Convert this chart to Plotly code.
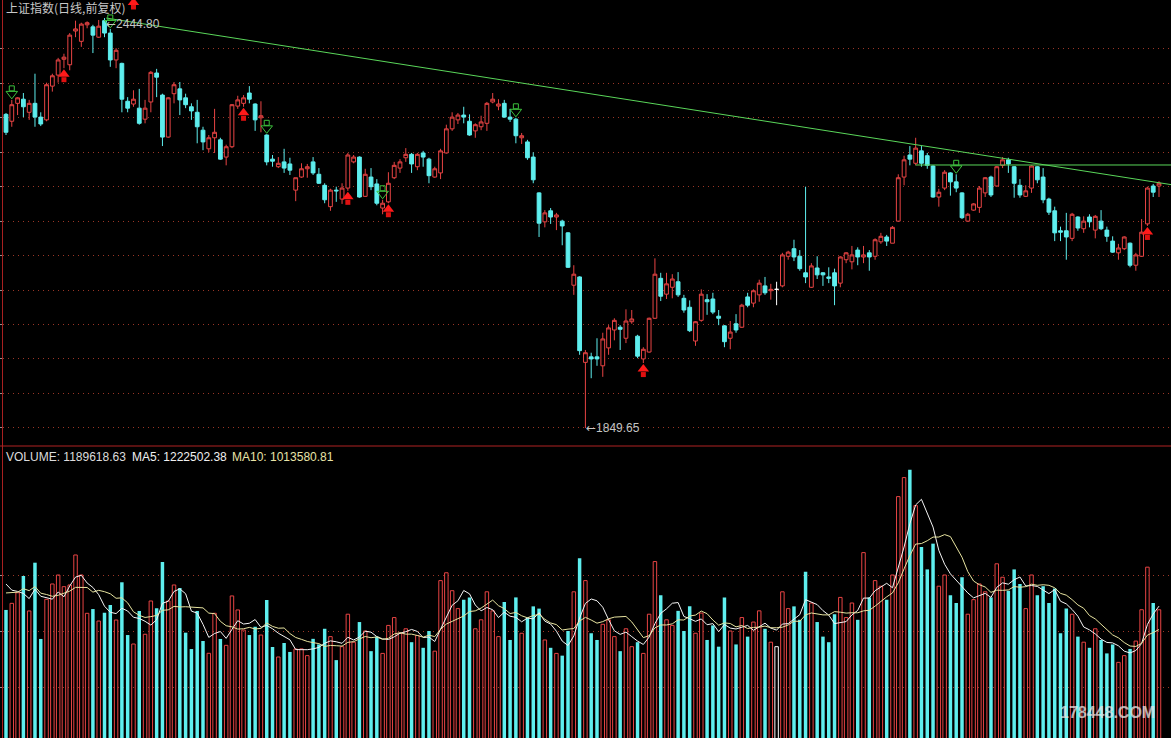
import numpy as np
import plotly.graph_objects as go

# ---------------- data ----------------
open_ = [2305,2295,2321,2327,2308,2321,2301,2297,2346,2362,
         2385,2377,2426,2411,2435,2432,2417,2441,2423,2384,
         2379,2324,2320,2314,2298,2323,2365,2333,2272,2335,
         2342,2329,2316,2308,2282,2255,2271,2268,2243,2258,
         2317,2321,2336,2320,2300,2275,2240,2229,2236,2233,
         2195,2214,2226,2236,2218,2202,2171,2195,2182,2198,
         2236,2243,2186,2214,2204,2169,2178,2213,2227,2242,
         2247,2229,2249,2240,2214,2220,2249,2284,2297,2304,
         2295,2281,2287,2292,2323,2317,2321,2301,2298,2271,
         2265,2243,2191,2149,2165,2156,2150,2133,2057,2069,
         1945,1953,1953,1940,1966,1992,1996,1980,2004,1983,
         1950,1960,2009,2067,2044,2054,2062,2038,2025,1976,
         2006,2036,2037,2012,1998,1980,2001,1996,2040,2031,
         2043,2056,2049,2051,2056,2099,2110,2099,2075,2054,
         2082,2075,2069,2075,2060,2094,2091,2108,2098,2104,
         2099,2120,2127,2118,2150,2214,2246,2234,2252,2245,
         2230,2185,2198,2220,2207,2191,2150,2166,2170,2191,
         2214,2201,2231,2239,2229,2202,2186,2198,2229,2214,
         2182,2165,2136,2136,2125,2156,2139,2156,2137,2150,
         2137,2121,2104,2110,2118,2086,2099,2146,2201,2201]
high = [2307,2326,2330,2336,2326,2364,2308,2351,2364,2387,
        2393,2423,2441,2438,2440,2435,2442,2444.8,2429,2401,
        2380,2330,2340,2342,2326,2368,2371,2335,2330,2352,
        2352,2335,2321,2326,2287,2275,2313,2271,2261,2320,
        2332,2333,2346,2321,2324,2276,2246,2243,2255,2242,
        2213,2234,2233,2243,2227,2205,2197,2200,2205,2249,
        2246,2244,2226,2227,2211,2181,2221,2236,2240,2256,
        2249,2249,2252,2242,2229,2255,2290,2308,2307,2316,
        2305,2292,2303,2323,2336,2327,2326,2313,2300,2278,
        2268,2250,2192,2166,2169,2162,2152,2134,2086,2070,
        1963,1959,1980,1988,1999,2009,1999,2022,2021,1985,
        1967,2010,2096,2075,2075,2073,2076,2043,2035,2005,
        2051,2044,2046,2021,1999,2005,2015,2030,2046,2051,
        2065,2069,2059,2062,2104,2107,2123,2108,2200,2089,
        2099,2076,2083,2081,2099,2105,2114,2112,2114,2108,
        2125,2133,2130,2143,2218,2245,2259,2271,2259,2249,
        2231,2197,2224,2221,2218,2192,2162,2176,2201,2214,
        2216,2230,2243,2242,2230,2211,2202,2231,2230,2227,
        2184,2171,2142,2162,2162,2157,2157,2160,2159,2166,
        2142,2128,2117,2128,2119,2104,2153,2200,2204,2208]
low = [2275,2287,2304,2301,2297,2287,2288,2295,2338,2351,
       2372,2369,2417,2403,2430,2394,2416,2417,2374,2372,
       2308,2308,2316,2290,2292,2308,2330,2259,2271,2321,
       2304,2314,2297,2263,2253,2250,2249,2239,2231,2256,
       2313,2316,2321,2281,2279,2231,2229,2227,2220,2217,
       2179,2213,2213,2217,2204,2176,2165,2178,2175,2194,
       2234,2184,2185,2195,2173,2160,2176,2211,2220,2236,
       2220,2224,2229,2205,2213,2211,2248,2281,2291,2292,
       2274,2271,2282,2281,2321,2311,2300,2294,2263,2262,
       2239,2205,2127,2141,2146,2137,2115,2082,2043,1956,
       1849.65,1922,1940,1924,1956,1977,1963,1973,2001,1951,
       1944,1959,2008,2034,2037,2038,2040,2017,1989,1969,
       2004,2014,2015,1999,1967,1964,1988,1995,2025,2025,
       2033,2043,2036,2028,2054,2094,2092,2078,2060,2053,
       2066,2056,2060,2028,2054,2089,2080,2086,2089,2078,
       2094,2117,2114,2118,2149,2202,2231,2231,2229,2226,
       2184,2171,2195,2187,2192,2153,2149,2165,2162,2185,
       2185,2200,2227,2220,2184,2184,2185,2191,2205,2176,
       2159,2121,2121,2094,2121,2136,2133,2141,2125,2137,
       2120,2104,2094,2108,2083,2078,2098,2143,2185,2185]
close = [2279,2319,2329,2316,2321,2301,2291,2348,2361,2384,
         2388,2420,2429,2436,2438,2420,2433,2423,2384,2398,
         2327,2314,2327,2292,2314,2366,2359,2272,2329,2348,
         2326,2319,2310,2287,2265,2271,2279,2240,2258,2319,
         2326,2329,2327,2297,2303,2236,2237,2234,2227,2224,
         2213,2226,2229,2220,2205,2181,2195,2194,2198,2246,
         2243,2185,2218,2200,2176,2176,2205,2231,2236,2247,
         2233,2247,2243,2216,2226,2252,2284,2301,2304,2301,
         2275,2290,2294,2321,2327,2320,2301,2298,2274,2274,
         2242,2210,2147,2162,2156,2159,2143,2083,2073,1962,
         1959,1950,1950,1979,1995,2006,1993,2005,2008,1954,
         1964,2009,2073,2041,2059,2066,2043,2021,1991,2004,
         2044,2033,2018,2009,1975,1989,1992,2028,2028,2049,
         2060,2046,2051,2051,2101,2105,2098,2081,2069,2085,
         2072,2072,2067,2056,2098,2104,2101,2098,2101,2098,
         2123,2128,2121,2141,2213,2239,2240,2256,2234,2231,
         2185,2192,2221,2207,2198,2155,2160,2175,2198,2213,
         2188,2229,2239,2233,2205,2188,2194,2230,2210,2181,
         2163,2133,2134,2127,2160,2140,2150,2149,2157,2139,
         2128,2105,2111,2127,2086,2101,2134,2198,2192,2205]
# volume in millions of lots
vol_m = [1.188,1.247,1.342,1.491,1.179,1.610,0.929,1.283,1.420,1.500,
         1.396,1.411,1.679,1.500,1.158,1.196,1.089,1.163,1.232,1.098,
         1.435,0.964,0.884,1.179,0.971,1.268,1.203,1.616,1.268,1.411,
         1.384,0.985,0.839,1.179,0.911,0.801,1.158,0.929,0.872,1.313,
         1.188,1.009,0.964,1.038,0.964,1.277,0.857,0.768,0.893,0.813,
         0.839,0.84,0.78,0.93,0.88,1.02,0.95,0.74,0.86,1.15,
         0.90,1.08,1.00,0.82,0.95,0.80,1.05,1.12,0.98,1.02,
         0.90,0.96,0.85,1.00,0.82,1.45,1.52,1.36,1.20,1.28,
         1.30,1.02,1.10,1.35,1.18,0.95,1.26,0.92,1.30,0.98,
         1.12,1.22,1.20,0.92,0.85,0.80,0.78,1.00,1.35,1.65,
         1.45,0.98,0.92,1.06,1.10,0.95,0.82,1.02,0.86,0.90,
         0.80,1.15,1.62,1.32,1.10,1.05,1.18,1.00,1.22,0.98,
         1.16,0.92,1.05,0.86,1.30,1.00,0.88,1.12,0.95,1.08,
         1.18,1.02,0.90,0.86,1.35,1.20,1.22,1.10,1.53,1.25,
         1.08,0.95,0.90,1.15,1.30,1.12,1.25,1.10,1.70,1.30,
         1.45,1.40,1.28,1.50,2.20,2.37,2.44,2.12,1.75,1.55,
         1.78,1.40,1.50,1.32,1.25,1.48,1.15,1.28,1.42,1.35,
         1.30,1.60,1.48,1.36,1.55,1.42,1.20,1.50,1.32,1.40,
         1.25,1.38,0.98,1.20,1.15,0.95,0.90,0.85,1.02,0.92,
         0.80,0.88,0.72,0.78,0.84,0.91,1.19,1.57,1.25,1.18962]
prev_vol_m = [1.22,1.30,1.18,1.35,1.25,1.52,1.40,1.58,1.41]   # days before the window (for MA)

buy_idx = [10, 41, 59, 66, 110, 197]
sell_idx = [1, 18, 45, 65, 88, 164]
top_buy_idx = [22]
trend_x = [17.3, 201.1]
trend_y = [2444.8, 2203.0]
hline_x = [157, 201.1]
hline_y = [2231.5, 2231.5]
price_grid = [1850, 1900, 1950, 2000, 2050, 2100, 2150, 2200, 2250, 2300, 2350, 2400]
vol_grid = [500000, 1000000, 1500000]

title_text = "上证指数(日线,前复权)"
vol_label = "VOLUME: 1189618.63"
ma5_label = "MA5: 1222502.38"
ma10_label = "MA10: 1013580.81"

# ---------------- styling / geometry ----------------
W, H = 1171, 738
L_MARGIN = 3
STEP = 5.794          # px per bar
FIRST = 6.0           # px of first bar
SEP_PX = 446          # px of panel separator
P_TOP, P_BOT = 2471.0, 1823.6
V_TOP, V_BOT = 2.652e6, 0.0446e6
PPX = (P_TOP - P_BOT) / SEP_PX   # price per pixel

RED = '#e84444'
CYAN = '#5eeeee'
GRID = '#9a3626'
AXIS = '#a82020'
GREEN = '#5ad65a'
SIG_GREEN = '#3cc03c'

o = np.array(open_, float); h = np.array(high, float)
l = np.array(low, float); c = np.array(close, float)
n = len(c)
idx = np.arange(n)
up = c > o
dn = c < o
flat = c == o

fig = go.Figure()

def candles(mask, color, fill):
    fig.add_trace(go.Candlestick(
        x=idx[mask], open=o[mask], high=h[mask], low=l[mask], close=c[mask],
        increasing=dict(line=dict(color=color, width=1), fillcolor=fill),
        decreasing=dict(line=dict(color=color, width=1), fillcolor=fill),
        whiskerwidth=0, hoverinfo='none', showlegend=False, xaxis='x', yaxis='y'))

candles(up, RED, '#000000')
candles(dn, CYAN, CYAN)
candles(flat, '#ffffff', '#ffffff')

# trend lines
fig.add_trace(go.Scatter(x=trend_x, y=trend_y, mode='lines', line=dict(color=GREEN, width=1),
                         hoverinfo='none', showlegend=False, xaxis='x', yaxis='y'))
fig.add_trace(go.Scatter(x=hline_x, y=hline_y, mode='lines', line=dict(color=GREEN, width=1),
                         hoverinfo='none', showlegend=False, xaxis='x', yaxis='y'))

def marker_trace(xs, ys, symbol, size, color, lw=0, clip=True):
    mk = dict(symbol=symbol, size=size, color=color, line=dict(width=lw, color=color))
    fig.add_trace(go.Scatter(x=xs, y=ys, mode='markers', marker=mk, hoverinfo='none',
                             showlegend=False, xaxis='x', yaxis='y', cliponaxis=clip))

# buy signals (red filled arrows below lows)
bx = np.array(buy_idx)
marker_trace(bx, l[bx] - 11.5 * PPX, 'square', 5, '#e01010')
marker_trace(bx, l[bx] - 6 * PPX, 'triangle-up', 10, '#ff1a1a')
tx = np.array(top_buy_idx)
marker_trace(tx, np.full(len(tx), P_TOP - 7 * PPX), 'square', 5, '#e01010', clip=False)
marker_trace(tx, np.full(len(tx), P_TOP - 2.5 * PPX), 'triangle-up', 10, '#ff1a1a', clip=False)

# sell signals (green hollow arrows above highs)
sx = np.array(sell_idx)
marker_trace(sx, h[sx] + 11.5 * PPX, 'square-open', 5, SIG_GREEN, lw=1)
marker_trace(sx, h[sx] + 6.0 * PPX, 'triangle-down-open', 10, SIG_GREEN, lw=1)

# volume
vol = np.array(vol_m) * 1e6
fig.add_trace(go.Bar(x=idx[up], y=vol[up], width=0.6,
                     marker=dict(color='rgba(0,0,0,0)', line=dict(color=RED, width=1)),
                     hoverinfo='none', showlegend=False, xaxis='x', yaxis='y2'))
fig.add_trace(go.Bar(x=idx[dn], y=vol[dn], width=0.6,
                     marker=dict(color=CYAN, line=dict(width=0)),
                     hoverinfo='none', showlegend=False, xaxis='x', yaxis='y2'))
fig.add_trace(go.Bar(x=idx[flat], y=vol[flat], width=0.6,
                     marker=dict(color='rgba(0,0,0,0)', line=dict(color='#ffffff', width=1)),
                     hoverinfo='none', showlegend=False, xaxis='x', yaxis='y2'))

allv = np.concatenate([np.array(prev_vol_m) * 1e6, vol])
ma5 = np.convolve(allv, np.ones(5) / 5, 'valid')[-n:]
ma10 = np.convolve(allv, np.ones(10) / 10, 'valid')[-n:]
fig.add_trace(go.Scatter(x=idx, y=ma5, mode='lines', line=dict(color='#f4f4f4', width=1),
                         hoverinfo='none', showlegend=False, xaxis='x', yaxis='y2'))
fig.add_trace(go.Scatter(x=idx, y=ma10, mode='lines', line=dict(color='#e8e4a0', width=1),
                         hoverinfo='none', showlegend=False, xaxis='x', yaxis='y2'))

split = 1 - SEP_PX / H
pw = W - L_MARGIN

def px_x(p):
    return (p - L_MARGIN) / pw

def px_y(p):
    return 1 - p / H

ARROW = "<span style='font-family:DejaVu Sans'>←</span>"
ann = []
ann.append(dict(xref='paper', yref='paper', x=px_x(4), y=px_y(8), xanchor='left', yanchor='middle',
                text=title_text, showarrow=False,
                font=dict(family='Noto Sans CJK SC', size=12, color='#c8c8c8')))
ann.append(dict(xref='x', yref='y', x=17, y=2444.8, xanchor='left', yanchor='middle', xshift=-1, yshift=-6,
                text=ARROW + '2444.80', showarrow=False,
                font=dict(family='Liberation Sans, Arial', size=12, color='#c4c4c4')))
ann.append(dict(xref='x', yref='y', x=100, y=1849.65, xanchor='left', yanchor='middle', xshift=-1,
                text=ARROW + '1849.65', showarrow=False,
                font=dict(family='Liberation Sans, Arial', size=12, color='#c4c4c4')))
for txt, xp, col in [(vol_label, 4, '#dcdcdc'), (ma5_label, 130, '#f0f0f0'), (ma10_label, 230, '#e8e4a8')]:
    ann.append(dict(xref='paper', yref='paper', x=px_x(xp), y=px_y(457), xanchor='left', yanchor='middle',
                    text=txt, showarrow=False,
                    font=dict(family='Liberation Sans, Arial', size=12, color=col)))
ann.append(dict(xref='paper', yref='paper', x=px_x(1058), y=px_y(712), xanchor='left', yanchor='middle',
                text='<b>178448.COM</b>', showarrow=False,
                font=dict(family='Liberation Sans, Arial', size=16, color='rgba(230,230,230,0.75)')))

fig.update_layout(
    width=W, height=H, margin=dict(l=L_MARGIN, r=0, t=0, b=0),
    paper_bgcolor='black', plot_bgcolor='black',
    barmode='overlay', boxgap=0.35, boxgroupgap=0, showlegend=False, hovermode=False,
    xaxis=dict(range=[(L_MARGIN - FIRST) / STEP, (W - FIRST) / STEP], visible=False,
               rangeslider=dict(visible=False), anchor='y2', fixedrange=True),
    yaxis=dict(domain=[split, 1], range=[P_BOT, P_TOP], tickmode='array', tickvals=price_grid,
               showticklabels=False, showgrid=True, gridcolor=GRID, griddash='1px,4px', gridwidth=1,
               zeroline=False, showline=True, linecolor=AXIS, linewidth=1,
               ticks='outside', ticklen=3, tickcolor='#909090', anchor='x'),
    yaxis2=dict(domain=[0, split], range=[V_BOT, V_TOP], tickmode='array', tickvals=vol_grid,
                showticklabels=False, showgrid=True, gridcolor=GRID, griddash='1px,4px', gridwidth=1,
                zeroline=False, showline=True, linecolor=AXIS, linewidth=1,
                ticks='outside', ticklen=3, tickcolor='#909090', anchor='x'),
    shapes=[dict(type='line', xref='paper', yref='paper', x0=-0.01, x1=1, y0=split, y1=split,
                 line=dict(color='#b02222', width=1))],
    annotations=ann,
)

fig.write_html("out.html", config={'displayModeBar': False, 'staticPlot': True})
